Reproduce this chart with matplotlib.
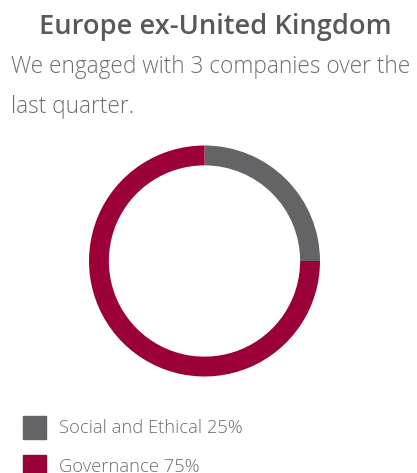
import matplotlib
matplotlib.use('Agg')
import matplotlib.pyplot as plt
from matplotlib.patches import Rectangle

# daten
labels = ['Social and Ethical', 'Governance']
shares = [25, 75]
colors = ['#646466', '#9b0039']

title = 'Europe ex-United Kingdom'
subtitle = 'We engaged with 3 companies over the\nlast quarter.'

W, H = 417, 473
fig = plt.figure(figsize=(W/100, H/100), dpi=100)

def px(x, y):
    # pixel von oben links -> figure coords
    return x/W, 1 - y/H

# titel
fig.text(*px(215, 27), title, ha='center', va='center', fontsize=19.6,
         fontfamily='Open Sans', fontweight='semibold', color='#58585a')
fig.text(*px(11, 87), subtitle, ha='left', va='center', fontsize=16.3,
         fontfamily='Open Sans', fontweight='light', color='#6d6d6f',
         linespacing=1.9)

# donut
cx, cy, r = 204.5, 261, 115.5
ax = fig.add_axes([(cx - r)/W, (H - cy - r)/H, 2*r/W, 2*r/H])
ax.pie(shares, colors=colors, startangle=90, counterclock=False,
       radius=1, wedgeprops=dict(width=0.172, linewidth=0))
ax.set_xlim(-1, 1)
ax.set_ylim(-1, 1)
ax.set_aspect('equal')
ax.axis('off')

# legende
for i, (lab, val) in enumerate(zip(labels, shares)):
    y0 = 416 + i*39
    fig.patches.append(Rectangle(px(23, y0 + 23), 23/W, 23/H, color=colors[i],
                                 transform=fig.transFigure, figure=fig))
    fig.text(*px(59, y0 + 12), '%s %d%%' % (lab, val), ha='left', va='center',
             fontsize=13.2, fontfamily='Open Sans', fontweight='light',
             color='#6d6d6f')

fig.savefig('out.png', dpi=100)
